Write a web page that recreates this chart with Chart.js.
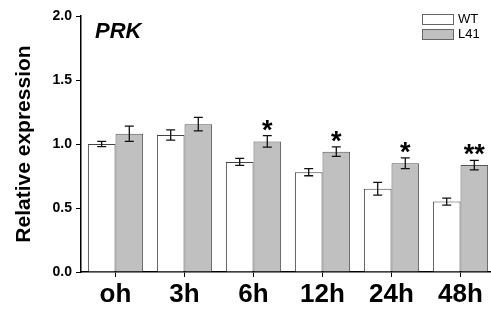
<!DOCTYPE html>
<html>
<head>
<meta charset="utf-8">
<script src="https://cdn.jsdelivr.net/npm/chart.js@4/dist/chart.umd.min.js"></script>
<style>
  html, body { margin: 0; padding: 0; background: #fff; overflow: hidden; }
</style>
</head>
<body>
<canvas id="myChart" width="496" height="311"></canvas>
<script>
var times = ["oh", "3h", "6h", "12h", "24h", "48h"];
var wt = [1.00, 1.07, 0.86, 0.78, 0.65, 0.55];
var wtErr = [0.02, 0.04, 0.027, 0.028, 0.05, 0.027];
var l41 = [1.08, 1.155, 1.02, 0.94, 0.85, 0.835];
var l41Err = [0.06, 0.053, 0.045, 0.037, 0.042, 0.037];
var stars = ["", "", "*", "*", "*", "**"];
var yTicks = [0, 0.5, 1.0, 1.5, 2.0];

var errs = [wtErr, l41Err];

// error bars, significance stars, title and legend
var extras = {
    id: "extras",
    afterDatasetsDraw: function (chart) {
        var ctx = chart.ctx;
        var y = chart.scales.y;
        ctx.save();
        ctx.strokeStyle = "#111";
        ctx.lineWidth = 1.3;
        chart.data.datasets.forEach(function (ds, di) {
            var meta = chart.getDatasetMeta(di);
            meta.data.forEach(function (bar, i) {
                var v = ds.data[i];
                var e = errs[di][i];
                var top = y.getPixelForValue(v + e);
                var bot = y.getPixelForValue(v - e);
                var x = bar.x;
                ctx.beginPath();
                ctx.moveTo(x, top); ctx.lineTo(x, bot);
                ctx.moveTo(x - 4.5, top); ctx.lineTo(x + 4.5, top);
                ctx.moveTo(x - 4.5, bot); ctx.lineTo(x + 4.5, bot);
                ctx.stroke();
                if (di == 1 && stars[i]) {
                    ctx.fillStyle = "#000";
                    ctx.font = "bold 27px Arial";
                    ctx.textAlign = "center";
                    ctx.textBaseline = "alphabetic";
                    ctx.fillText(stars[i], x, top + 3);
                }
            });
        });

        var area = chart.chartArea;
        ctx.fillStyle = "#000";
        ctx.font = "italic bold 22px Arial";
        ctx.textAlign = "left";
        ctx.textBaseline = "alphabetic";
        ctx.fillText("PRK", area.left + 14, 38);

        ctx.font = "13px Arial";
        ctx.textBaseline = "middle";
        chart.data.datasets.forEach(function (ds, di) {
            var ly = 14 + di * 15;
            ctx.fillStyle = ds.backgroundColor;
            ctx.fillRect(422, ly, 32, 10);
            ctx.strokeStyle = "#666";
            ctx.lineWidth = 1;
            ctx.strokeRect(422.5, ly + 0.5, 31, 10);
            ctx.fillStyle = "#000";
            ctx.fillText(ds.label, 458, ly + 5.5);
        });
        ctx.restore();
    }
};

var ctx = document.getElementById("myChart").getContext("2d");
var myChart = new Chart(ctx, {
    type: 'bar',
    data: {
        labels: times,
        datasets: [
            {
                label: "WT",
                data: wt,
                backgroundColor: "#ffffff",
                borderColor: "#444444",
                borderWidth: 1
            },
            {
                label: "L41",
                data: l41,
                backgroundColor: "#c0c0c0",
                borderColor: "#555555",
                borderWidth: 1
            }
        ]
    },
    options: {
        responsive: false,
        animation: false,
        layout: { padding: { top: 16, right: 1, left: 0, bottom: 0 } },
        plugins: {
            legend: { display: false },
            tooltip: { enabled: false }
        },
        datasets: {
            bar: { categoryPercentage: 0.8, barPercentage: 1.0 }
        },
        scales: {
            x: {
                afterFit: function (s) { s.height = 39; },
                grid: { display: true, drawOnChartArea: false, offset: false, tickLength: 5, color: "#000" },
                border: { color: "#000", width: 1.5 },
                ticks: { color: "#000", padding: 2, font: { family: "Arial", weight: "bold", size: 26 } }
            },
            y: {
                min: 0,
                max: 2,
                afterFit: function (s) { s.width = 81; },
                afterBuildTicks: function (s) {
                    s.ticks = yTicks.map(function (v) { return { value: v }; });
                },
                grid: { display: true, drawOnChartArea: false, tickLength: 5, color: "#000" },
                border: { color: "#000", width: 1.5 },
                ticks: {
                    color: "#000",
                    padding: 4,
                    font: { family: "Arial", weight: "bold", size: 14 },
                    callback: function (v) { return v.toFixed(1); }
                },
                title: {
                    display: true,
                    text: "Relative expression",
                    color: "#000",
                    padding: { top: 12, bottom: 0 },
                    font: { family: "Arial", weight: "bold", size: 21 }
                }
            }
        }
    },
    plugins: [extras]
});
</script>
</body>
</html>
